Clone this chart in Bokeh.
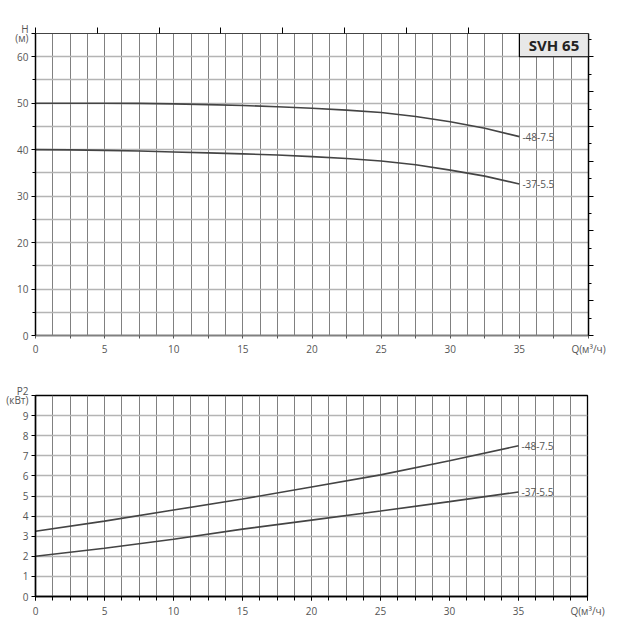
from bokeh.plotting import figure
from bokeh.models import Range1d, LinearAxis, FixedTicker, Label, BoxAnnotation
from bokeh.layouts import column
from bokeh.embed import file_html
from bokeh.resources import INLINE

# ---------------- data ----------------
Q = [0, 2.5, 5, 7.5, 10, 12.5, 15, 17.5, 20, 22.5, 25, 27.5, 30, 32.5, 35]
H_48 = [50.0, 50.0, 50.0, 49.95, 49.85, 49.7, 49.5, 49.25, 48.9, 48.5,
        48.0, 47.15, 46.0, 44.6, 42.8]
H_37 = [40.0, 39.95, 39.85, 39.7, 39.5, 39.3, 39.1, 38.85, 38.5, 38.1,
        37.55, 36.75, 35.6, 34.3, 32.6]

Q_P = [0, 5, 10, 15, 20, 25, 30, 35]
P_48 = [3.25, 3.75, 4.3, 4.85, 5.45, 6.05, 6.75, 7.5]
P_37 = [2.0, 2.4, 2.85, 3.35, 3.8, 4.25, 4.72, 5.2]

series_names = ["-48-7.5", "-37-5.5"]
title_text = "SVH 65"
x_ticks = [0, 5, 10, 15, 20, 25, 30, 35]
h_ticks = [0, 10, 20, 30, 40, 50, 60]
p_ticks = [0, 1, 2, 3, 4, 5, 6, 7, 8, 9]
x_label = "Q(м³/ч)"
h_label = "H\n(м)"
p_label = "P2\n(кВт)"

# ---------------- style ----------------
FONT = "Open Sans"
LBL = "#555555"
VGRID = "#808080"
HGRID = "#b4b4b4"
CURVE = "#444444"
vgrid_ticks = [i * 1.25 for i in range(33)]


def base(p):
    p.background_fill_color = "white"
    p.border_fill_color = "white"
    p.xgrid.ticker = FixedTicker(ticks=vgrid_ticks)
    p.xgrid.grid_line_color = VGRID
    p.xgrid.grid_line_width = 1
    p.ygrid.grid_line_color = HGRID
    p.ygrid.grid_line_width = 1.5
    for ax in (p.xaxis[0], p.yaxis[0]):
        ax.major_label_text_font = FONT
        ax.major_label_text_font_size = "10px"
        ax.major_label_text_color = LBL
        ax.major_tick_in = 0
        ax.minor_tick_in = 0
        ax.major_label_standoff = 3
    p.yaxis[0].major_label_text_line_height = 0.7


# ---------------- top chart ----------------
p1 = figure(output_backend="svg", toolbar_location=None,
            frame_width=553, frame_height=302,
            min_border_left=35, min_border_right=30,
            min_border_top=33, min_border_bottom=30,
            x_range=Range1d(0, 40), y_range=Range1d(0, 65))
base(p1)
p1.outline_line_color = None
p1.ygrid.ticker = FixedTicker(ticks=[i * 5 for i in range(14)])

xa = p1.xaxis[0]
xa.ticker = FixedTicker(ticks=x_ticks + [40], minor_ticks=[2.5 + 5 * i for i in range(8)])
xa.major_label_overrides = {40: x_label}
xa.axis_line_color = "#808080"
xa.axis_line_width = 2
xa.major_tick_line_color = "#555555"
xa.minor_tick_line_color = "#555555"
xa.major_tick_out = 3
xa.minor_tick_out = 3

ya = p1.yaxis[0]
ya.ticker = FixedTicker(ticks=h_ticks + [65], minor_ticks=[5 + 10 * i for i in range(6)])
ya.major_label_overrides = {65: h_label}
ya.axis_line_color = "black"
ya.axis_line_width = 1.5
ya.major_tick_out = 4
ya.minor_tick_out = 3

top_ax = LinearAxis(ticker=FixedTicker(ticks=[i * 4.47 for i in range(8)]),
                    major_label_text_font_size="1px", major_label_text_alpha=0,
                    major_label_standoff=0,
                    major_tick_out=6, major_tick_in=0,
                    axis_line_color="#444444", axis_line_width=1.2)
p1.add_layout(top_ax, "above")
right_ax = LinearAxis(ticker=FixedTicker(ticks=[i * 7.5 for i in range(9)],
                                         minor_ticks=[3.75 + 7.5 * i for i in range(9)]),
                      major_label_text_font_size="1px", major_label_text_alpha=0,
                      major_label_standoff=0,
                      major_tick_out=5, major_tick_in=0,
                      minor_tick_out=3, minor_tick_in=0,
                      axis_line_color="black", axis_line_width=1.5)
p1.add_layout(right_ax, "right")

p1.line(Q, H_48, line_color=CURVE, line_width=1.6)
p1.line(Q, H_37, line_color=CURVE, line_width=1.6)

for name, yv in zip(series_names, [H_48[-1], H_37[-1]]):
    p1.add_layout(Label(x=Q[-1], y=yv, text=name, x_offset=3,
                        text_baseline="middle", text_font=FONT,
                        text_font_size="10px", text_color=LBL))

p1.add_layout(BoxAnnotation(left=35, right=40, bottom=60, top=65,
                            fill_color="#e8e8e8", fill_alpha=1,
                            line_color="black", line_width=1.2, line_alpha=1))
p1.add_layout(Label(x=37.5, y=62.5, text=title_text, text_align="center",
                    text_baseline="middle", text_font=FONT,
                    text_font_style="bold", text_font_size="15px",
                    text_color="#222222"))

# ---------------- bottom chart ----------------
p2 = figure(output_backend="svg", toolbar_location=None,
            frame_width=552, frame_height=201,
            min_border_left=33, min_border_right=33,
            min_border_top=30, min_border_bottom=30,
            x_range=Range1d(0, 40), y_range=Range1d(0, 10))
base(p2)
p2.outline_line_color = "black"
p2.outline_line_width = 1.3
p2.ygrid.ticker = FixedTicker(ticks=list(range(11)))

xb = p2.xaxis[0]
xb.ticker = FixedTicker(ticks=x_ticks + [40], minor_ticks=vgrid_ticks)
xb.major_label_overrides = {40: x_label}
xb.axis_line_color = "black"
xb.axis_line_width = 1.5
xb.major_tick_out = 4
xb.minor_tick_out = 4

yb = p2.yaxis[0]
yb.ticker = FixedTicker(ticks=p_ticks + [10])
yb.major_label_overrides = {10: p_label}
yb.axis_line_color = "black"
yb.axis_line_width = 1.5
yb.major_tick_out = 4
yb.minor_tick_line_color = None

p2.line(Q_P, P_48, line_color=CURVE, line_width=1.6)
p2.line(Q_P, P_37, line_color=CURVE, line_width=1.6)

for name, yv in zip(series_names, [P_48[-1], P_37[-1]]):
    p2.add_layout(Label(x=Q_P[-1], y=yv, text=name, x_offset=3,
                        text_baseline="middle", text_font=FONT,
                        text_font_size="10px", text_color=LBL))

layout = column(p1, p2, spacing=0)
open("out.html", "w").write(file_html(layout, INLINE))
